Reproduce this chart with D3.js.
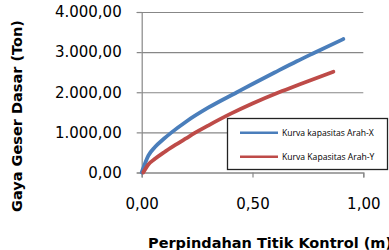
<!DOCTYPE html>
<html><head><meta charset="utf-8">
<script src="https://cdn.jsdelivr.net/npm/d3@7"></script>
<style>
html,body{margin:0;padding:0;background:#fff;}
svg{display:block;}
</style></head>
<body>
<svg id="chart" width="389" height="250"></svg>
<script>
// ---- data ----
const seriesNames = ["Kurva kapasitas Arah-X", "Kurva Kapasitas Arah-Y"];
const xDispX = [0, 0.03, 0.06, 0.10, 0.135, 0.20, 0.30, 0.43, 0.50, 0.60, 0.70, 0.782, 0.91];
const yShearX = [0, 420, 635, 840, 1000, 1266, 1614, 2000, 2206, 2492, 2773, 2990, 3325];
const xDispY = [0.007, 0.03, 0.06, 0.10, 0.15, 0.20, 0.24, 0.30, 0.40, 0.50, 0.62, 0.714, 0.865];
const yShearY = [0, 200, 340, 500, 680, 850, 985, 1170, 1460, 1720, 2000, 2200, 2512];
const xTicks = [0, 0.5, 1.0];
const yTicks = [0, 1000, 2000, 3000, 4000];
const xTitle = "Perpindahan Titik Kontrol (m)";
const yTitle = "Gaya Geser Dasar (Ton)";

const colors = ["#4A7EBB", "#BE4B48"];
const svg = d3.select("#chart");
const L = 141.7, R = 363.3, T = 12, B = 172.5;
const x = d3.scaleLinear().domain([0, 1]).range([L, R]);
const y = d3.scaleLinear().domain([0, 4000]).range([B, T]);
const loc = d3.formatLocale({decimal: ",", thousands: ".", grouping: [3], currency: ["", ""]});
const fmt = loc.format(",.2f");
const FONT = "DejaVu Sans, sans-serif";

// gridlines
svg.append("g").attr("transform", `translate(${L},0)`)
  .call(d3.axisLeft(y).tickValues(yTicks).tickSize(-(R - L)).tickFormat(""))
  .call(g => g.select(".domain").remove())
  .call(g => g.selectAll("line").attr("stroke", "#878787").attr("stroke-width", 1.2));

// y axis
svg.append("g").attr("transform", `translate(${L},0)`)
  .call(d3.axisLeft(y).tickValues(yTicks).tickSize(5).tickPadding(15).tickFormat(fmt))
  .call(g => g.select(".domain").attr("stroke", "#878787").attr("stroke-width", 1.2))
  .call(g => g.selectAll("line").attr("stroke", "#878787").attr("stroke-width", 1.2))
  .call(g => g.selectAll("text").attr("font-family", FONT).attr("font-size", 15).attr("fill", "#000"));

// x axis
svg.append("g").attr("transform", `translate(0,${B})`)
  .call(d3.axisBottom(x).tickValues(xTicks).tickSize(5).tickPadding(21).tickFormat(fmt))
  .call(g => g.select(".domain").attr("stroke", "#878787").attr("stroke-width", 1.2))
  .call(g => g.selectAll("line").attr("stroke", "#878787").attr("stroke-width", 1.2))
  .call(g => g.selectAll("text").attr("font-family", FONT).attr("font-size", 15).attr("fill", "#000"));

// lines
const line = d3.line().x(d => x(d[0])).y(d => y(d[1])).curve(d3.curveMonotoneX);
const series = [d3.zip(xDispX, yShearX), d3.zip(xDispY, yShearY)];
series.forEach((s, i) => {
  svg.append("path").datum(s).attr("d", line)
    .attr("fill", "none").attr("stroke", colors[i]).attr("stroke-width", 3.8)
    .attr("stroke-linecap", "round").attr("stroke-linejoin", "round");
});

// legend
const lg = svg.append("g");
lg.append("rect").attr("x", 227.5).attr("y", 118.5).attr("width", 160).attr("height", 51)
  .attr("fill", "#fff").attr("stroke", "#222").attr("stroke-width", 1.3);
seriesNames.forEach((n, i) => {
  const yy = 132.7 + i * 24;
  lg.append("line").attr("x1", 240).attr("x2", 278).attr("y1", yy).attr("y2", yy)
    .attr("stroke", colors[i]).attr("stroke-width", 2.5);
  lg.append("text").attr("x", 282).attr("y", yy).attr("dy", "0.35em")
    .attr("font-family", "Open Sans, sans-serif").attr("font-size", 8.6).attr("fill", "#000").text(n);
});

// titles
svg.append("text").attr("x", 148).attr("y", 248)
  .attr("font-family", FONT).attr("font-weight", "bold").attr("font-size", 14.5).attr("fill", "#000")
  .text(xTitle);
svg.append("text").attr("transform", "translate(22,116) rotate(-90)").attr("text-anchor", "middle")
  .attr("font-family", FONT).attr("font-weight", "bold").attr("font-size", 14.5).attr("fill", "#000")
  .text(yTitle);
</script>
</body></html>
